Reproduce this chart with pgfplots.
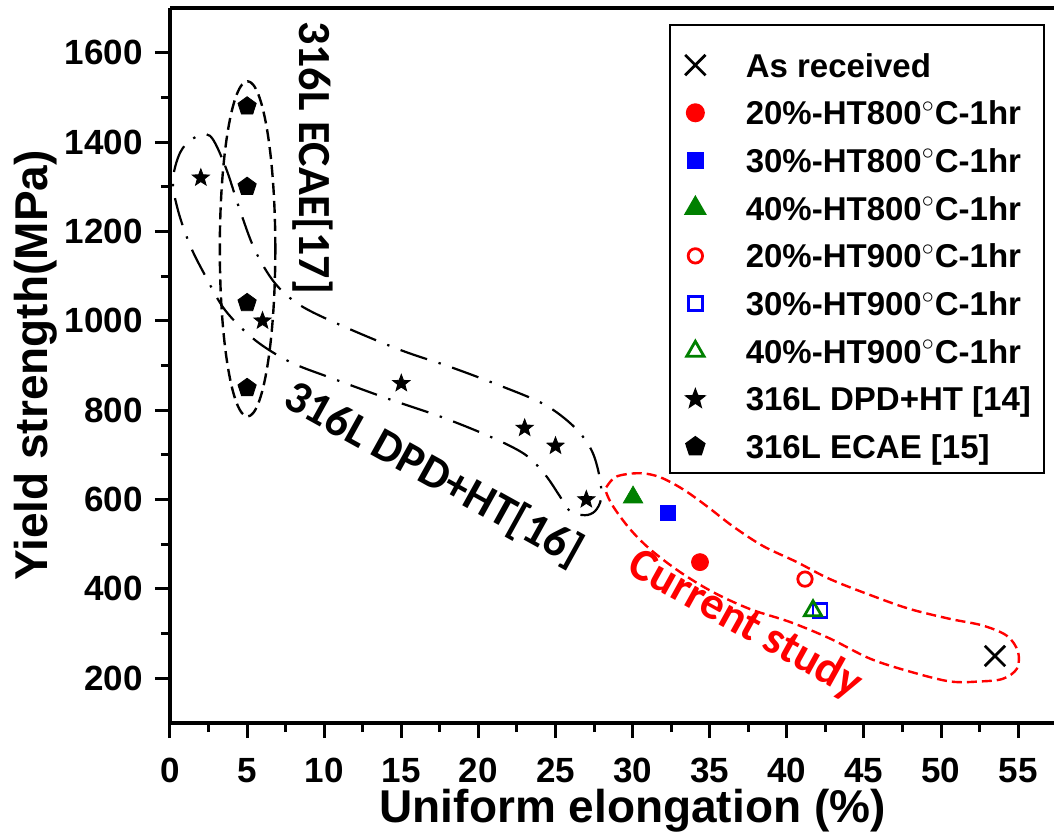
\documentclass[border=0pt]{standalone}
\usepackage{fontspec}
\setmainfont{Liberation Sans}
\newfontfamily\calibfont{Carlito}
\usepackage{pgfplots}
\pgfplotsset{compat=1.18}
\usetikzlibrary{plotmarks}

% filled five-pointed star
\pgfdeclareplotmark{fstar}{%
  \pgfpathmoveto{\pgfpointpolar{90}{\pgfplotmarksize}}%
  \pgfpathlineto{\pgfpointpolar{126}{0.42\pgfplotmarksize}}%
  \pgfpathlineto{\pgfpointpolar{162}{\pgfplotmarksize}}%
  \pgfpathlineto{\pgfpointpolar{198}{0.42\pgfplotmarksize}}%
  \pgfpathlineto{\pgfpointpolar{234}{\pgfplotmarksize}}%
  \pgfpathlineto{\pgfpointpolar{270}{0.42\pgfplotmarksize}}%
  \pgfpathlineto{\pgfpointpolar{306}{\pgfplotmarksize}}%
  \pgfpathlineto{\pgfpointpolar{342}{0.42\pgfplotmarksize}}%
  \pgfpathlineto{\pgfpointpolar{18}{\pgfplotmarksize}}%
  \pgfpathlineto{\pgfpointpolar{54}{0.42\pgfplotmarksize}}%
  \pgfpathclose
  \pgfusepathqfillstroke
}

\definecolor{cred}{RGB}{255,0,0}
\definecolor{cblue}{RGB}{0,0,255}
\definecolor{cgreen}{RGB}{0,128,0}

\pgfplotsset{
  lgimg/.style={legend image code/.code={%
      \path (0pt,0pt) (11pt,0pt);
      \draw[##1] plot coordinates {(5.5pt,0pt)};}},
  lgimgtop/.style={legend image code/.code={%
      \path (0pt,12.3pt) (0pt,0pt) (11pt,0pt);
      \draw[##1] plot coordinates {(5.5pt,0pt)};}},
}

\begin{document}
\begin{tikzpicture}
\begin{axis}[
  scale only axis,
  width=462.6pt, height=357.5pt,
  xmin=0, xmax=60, ymin=100, ymax=1700,
  axis x line*=bottom, axis y line*=left,
  tick align=outside,
  xtick={0,5,...,55}, ytick={200,400,...,1600},
  minor x tick num=1, minor y tick num=1,
  major tick length=7.5pt, minor tick length=4.5pt,
  major tick style={line width=1.5pt, black},
  minor tick style={line width=1.5pt, black},
  axis line style={line width=1.7pt},
  clip=false,
  /pgf/number format/assume math mode=true,
  /pgf/number format/1000 sep={},
  tick label style={font=\fontsize{17.5}{17.5}\selectfont\bfseries},
  yticklabel style={inner sep=0pt, anchor=east, xshift=-6pt},
  xticklabel style={inner sep=0pt, anchor=north, yshift=-10pt},
  xlabel={Uniform elongation (\%)},
  ylabel={Yield strength(MPa)},
  xlabel style={font=\fontsize{23}{23}\selectfont\bfseries,
    at={(rel axis cs:0.5,-0.1385)}, anchor=base},
  ylabel style={font=\fontsize{23}{23}\selectfont\bfseries,
    at={(rel axis cs:-0.1329,0.5)}, anchor=base, rotate=0},
  legend style={at={(axis cs:56.74,1664)}, anchor=north east,
    draw=black, line width=1pt,
    font=\fontsize{16.5}{16.5}\selectfont\bfseries,
    inner xsep=6.5pt, inner ysep=7pt,
    row sep=11.85pt, column sep=19pt,
    nodes={inner sep=0pt, text height=12pt, text depth=0pt}},
  legend cell align=left,
]

% upper frame line
\draw[line width=1.7pt] (rel axis cs:0,1) -- (rel axis cs:1,1);

% long tick marks at the labelled values
\pgfplotsinvokeforeach{0,5,...,55}{
  \draw[line width=1.5pt] (axis cs:#1,100) -- ++(0pt,-7.5pt);}
\pgfplotsinvokeforeach{200,400,...,1600}{
  \draw[line width=1.5pt] (axis cs:0,#1) -- ++(-7.5pt,0pt);}

% enclosure of the ECAE data
\draw[black, line width=1.2pt, dash pattern=on 6pt off 3pt]
  (axis cs:5.03,1161) ellipse [x radius=1.8, y radius=375];

% enclosure of the DPD+HT data
\draw[black, line width=1.1pt, dash pattern=on 14pt off 6pt on 1.2pt off 6pt]
  plot[smooth cycle, tension=0.55] coordinates {
  (2.59,1414) (3.57,1347) (4.54,1247) (5.51,1158) (6.81,1084) (8.43,1035)
  (11.02,991) (14.92,935) (18.16,897) (21.4,855) (24.32,812) (26.26,761)
  (27.37,708) (27.89,645) (27.95,601) (27.56,574) (26.91,565) (25.94,574)
  (25.29,607) (24.32,656) (23.02,701) (20.75,741) (17.51,786) (14.27,824)
  (10.38,873) (7.78,908) (5.51,957) (3.57,1024) (2.27,1102) (1.30,1169)
  (0.52,1247) (0.19,1314) (0.65,1376) (1.49,1408)};

% enclosure of the present results
\draw[cred, line width=1.2pt, dash pattern=on 5pt off 2.5pt]
  plot[smooth cycle, tension=0.55] coordinates {
  (28.34,630) (28.99,652) (30.48,659) (31.78,650) (33.27,623) (34.82,585)
  (36.51,540) (38.46,496) (40.66,460) (42.80,422) (45.59,384) (47.99,355)
  (50.58,333) (52.72,318) (54.28,295) (54.99,260) (54.93,222) (54.02,199)
  (52.53,193) (50.58,193) (47.99,215) (45.40,244) (42.80,289) (40.21,326)
  (37.61,355) (35.21,393) (33.07,438) (31.13,489) (29.83,534) (28.73,585)
  (28.27,618)};

\node[rotate=-90, font=\calibfont\bfseries\fontsize{23}{23}\selectfont]
  at (axis cs:9.27,1365) {316L ECAE[17]};
\node[rotate=-29, font=\calibfont\bfseries\fontsize{23}{23}\selectfont]
  at (axis cs:17.09,656) {316L DPD+HT[16]};
\node[rotate=-29, text=cred, font=\calibfont\bfseries\fontsize{23}{23}\selectfont]
  at (axis cs:37.29,320) {Current study};

\addplot[only marks, mark=x, mark size=7.2pt, line width=1.4pt, black, lgimgtop]
  coordinates {(53.5,250)};
\addlegendentry{As received}
\addplot[only marks, mark=*, mark size=4.25pt, cred, fill=cred, lgimg]
  coordinates {(34.37,460)};
\addlegendentry{20\%-HT800$^{\circ}$C-1hr}
\addplot[only marks, mark=square*, mark size=3.8pt, cblue, fill=cblue, lgimg]
  coordinates {(32.3,570)};
\addlegendentry{30\%-HT800$^{\circ}$C-1hr}
\addplot[only marks, mark=triangle*, mark size=5.6pt, cgreen, fill=cgreen, lgimg]
  coordinates {(30.03,605)};
\addlegendentry{40\%-HT800$^{\circ}$C-1hr}
\addplot[only marks, mark=o, mark size=3.6pt, line width=1.4pt, cred, lgimg]
  coordinates {(41.18,422)};
\addlegendentry{20\%-HT900$^{\circ}$C-1hr}
\addplot[only marks, mark=square, mark size=3.5pt, line width=1.4pt, cblue, lgimg]
  coordinates {(42.15,351)};
\addlegendentry{30\%-HT900$^{\circ}$C-1hr}
\addplot[only marks, mark=triangle, mark size=5pt, line width=1.4pt, cgreen, lgimg]
  coordinates {(41.7,351)};
\addlegendentry{40\%-HT900$^{\circ}$C-1hr}
\addplot[only marks, mark=fstar, mark size=4.5pt, black, fill=black, lgimg]
  coordinates {(2,1320) (6,1000) (15,860) (23,760) (25,720) (27,600)};
\addlegendentry{316L DPD+HT [14]}
\addplot[only marks, mark=pentagon*, mark size=4.8pt, black, fill=black, lgimg]
  coordinates {(5,1480) (5,1300) (5,1040) (5,850)};
\addlegendentry{316L ECAE [15]}
\end{axis}
\pgfresetboundingbox
\path (-85pt,-56.5pt) rectangle (442pt,361.5pt);
\end{tikzpicture}
\end{document}
